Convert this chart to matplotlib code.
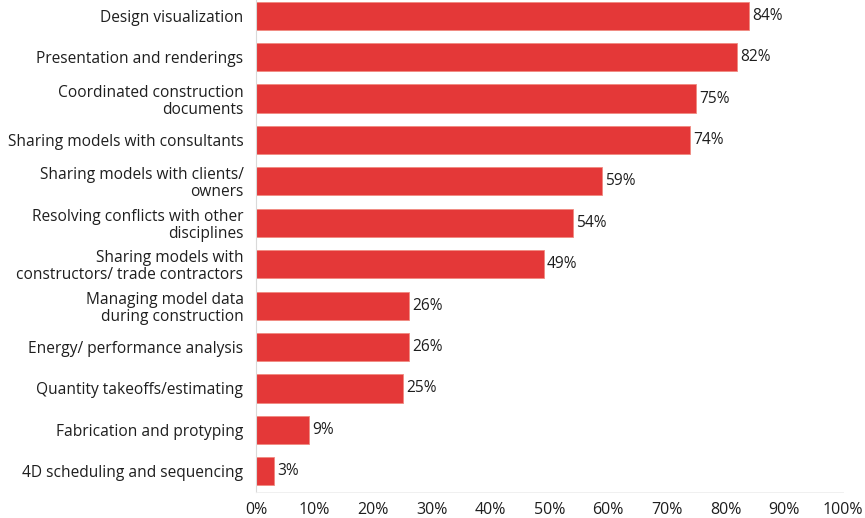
import matplotlib
matplotlib.use("Agg")
import matplotlib.pyplot as plt
from matplotlib.ticker import FuncFormatter

categories = [
    "Design visualization",
    "Presentation and renderings",
    "Coordinated construction\ndocuments",
    "Sharing models with consultants",
    "Sharing models with clients/\nowners",
    "Resolving conflicts with other\ndisciplines",
    "Sharing models with\nconstructors/ trade contractors",
    "Managing model data\nduring construction",
    "Energy/ performance analysis",
    "Quantity takeoffs/estimating",
    "Fabrication and protyping",
    "4D scheduling and sequencing",
]
values = [84, 82, 75, 74, 59, 54, 49, 26, 26, 25, 9, 3]
xticks = [0, 10, 20, 30, 40, 50, 60, 70, 80, 90, 100]

plt.rcParams['font.family'] = ['Open Sans', 'DejaVu Sans']
fs = 11.2
fig = plt.figure(figsize=(8.65, 5.18), dpi=100)
ax = fig.add_axes([256/865, 26/518, 587/865, 497/518])

ypos = list(range(len(categories)))
ax.barh(ypos, values, height=0.68, color="#e43838", edgecolor="#f08a80", linewidth=0.6)
for y, v in zip(ypos, values):
    ax.text(v + 0.55, y, f"{v}%", va="center", ha="left", fontsize=fs, color="#1e1e1e")

ax.set_yticks(ypos)
ax.set_yticklabels(categories, fontsize=fs, color="#1e1e1e", linespacing=1.08)
ax.set_ylim(len(categories) - 0.5, -0.5)
ax.set_xlim(0, 100)
ax.set_xticks(xticks)
ax.xaxis.set_major_formatter(FuncFormatter(lambda x, p: f"{int(x)}%"))
ax.tick_params(axis="x", labelsize=fs + 0.3, colors="#1e1e1e", length=0, pad=7)
ax.tick_params(axis="y", length=0, pad=9)
for s in ["top", "right"]:
    ax.spines[s].set_visible(False)
ax.spines["left"].set_color("#d9d9d9")
ax.spines["bottom"].set_color("#eeeeee")
ax.spines["bottom"].set_linewidth(0.6)

fig.savefig("out.png", dpi=100)
